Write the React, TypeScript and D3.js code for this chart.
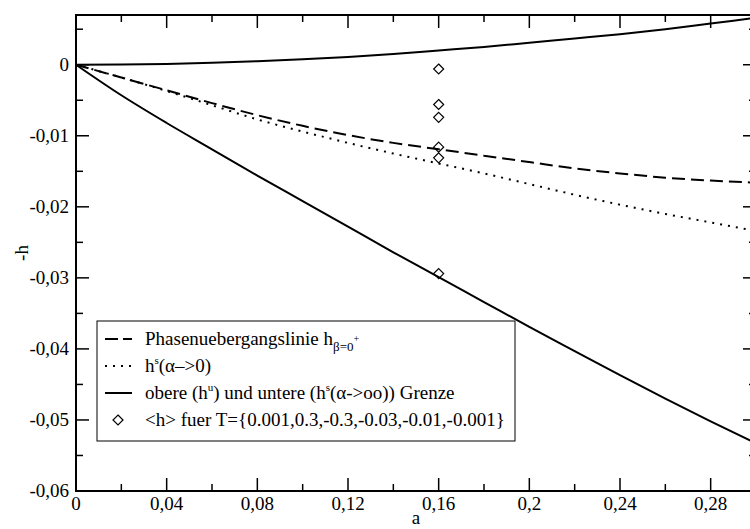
import React from "react";
import * as d3 from "d3";

const aGrid = [0, 0.02, 0.04, 0.06, 0.08, 0.1, 0.12, 0.14, 0.16, 0.18, 0.2, 0.22, 0.24, 0.26, 0.28, 0.3];
const upperBound = [0, 0.00003, 0.00012, 0.00028, 0.0005, 0.00077, 0.0011, 0.0015, 0.002, 0.0025, 0.0031, 0.0037, 0.0043, 0.005, 0.0058, 0.0066];
const lowerBound = [0, -0.0043, -0.0082, -0.0119, -0.0156, -0.0192, -0.0228, -0.0264, -0.0299, -0.0334, -0.0369, -0.0403, -0.0437, -0.047, -0.0502, -0.0533];
const phaseLine = [0, -0.0018, -0.0036, -0.0054, -0.0071, -0.0086, -0.0099, -0.011, -0.0119, -0.0128, -0.0137, -0.0146, -0.0153, -0.0159, -0.0163, -0.0166];
const hsAlpha0 = [0, -0.0018, -0.0037, -0.0057, -0.0077, -0.0094, -0.011, -0.0125, -0.0139, -0.0153, -0.0168, -0.0183, -0.0197, -0.021, -0.0222, -0.0234];
const diamondA = [0.16, 0.16, 0.16, 0.16, 0.16, 0.16];
const diamondH = [-0.0006, -0.0056, -0.0074, -0.0116, -0.0131, -0.0294];
const xMajor = [0, 0.04, 0.08, 0.12, 0.16, 0.2, 0.24, 0.28];
const xMinor = [0.02, 0.06, 0.1, 0.14, 0.18, 0.22, 0.26, 0.3];
const yMajor = [0, -0.01, -0.02, -0.03, -0.04, -0.05, -0.06];
const yMinor = [0.005, -0.005, -0.015, -0.025, -0.035, -0.045, -0.055];

const L = 76, R = 756, T = 15, B = 491;
const fmt = (v: number) => String(+v.toFixed(3)).replace(".", ",");
const FONT = "Liberation Serif";

export default function App() {
  const x = d3.scaleLinear().domain([0, 0.3]).range([L, R]);
  const y = d3.scaleLinear().domain([-0.06, 0.007]).range([B, T]);
  const line = (vals: number[]) =>
    d3.line<number>().x((_, i) => x(aGrid[i])).y((d) => y(d)).curve(d3.curveMonotoneX)(vals) || "";
  const major = 13, minor = 7;
  const diamond = (cx: number, cy: number, r = 5) =>
    `M${cx},${cy - r}L${cx + r},${cy}L${cx},${cy + r}L${cx - r},${cy}Z`;

  const lx = 97, ly = 321, lw = 418, lh = 120;
  const rowY = [339, 366, 393, 420];
  const fs = 19;

  return (
    <svg width={750} height={529} style={{ position: "absolute", left: 0, top: 0, background: "#fff" }}>
      <rect x={0} y={0} width={750} height={529} fill="#fff" />
      <g fill="none" stroke="#000">
        <path d={line(upperBound)} strokeWidth={2} />
        <path d={line(lowerBound)} strokeWidth={2} />
        <path d={line(phaseLine)} strokeWidth={2} strokeDasharray="13,6" />
        <path d={line(hsAlpha0)} strokeWidth={2} strokeDasharray="2,6" />
      </g>
      {diamondA.map((a, i) => (
        <path key={i} d={diamond(x(a), y(diamondH[i]))} fill="none" stroke="#000" strokeWidth={1.2} />
      ))}
      <rect x={L} y={T} width={R - L} height={B - T} fill="none" stroke="#000" strokeWidth={2} />
      <g stroke="#000" strokeWidth={1.5}>
        {xMajor.map((v) => (
          <g key={"xM" + v}>
            <line x1={x(v)} x2={x(v)} y1={B} y2={B - major} />
            <line x1={x(v)} x2={x(v)} y1={T} y2={T + major} />
          </g>
        ))}
        {xMinor.map((v) => (
          <g key={"xm" + v}>
            <line x1={x(v)} x2={x(v)} y1={B} y2={B - minor} />
            <line x1={x(v)} x2={x(v)} y1={T} y2={T + minor} />
          </g>
        ))}
        {yMajor.map((v) => (
          <g key={"yM" + v}>
            <line x1={L} x2={L + major} y1={y(v)} y2={y(v)} />
            <line x1={R} x2={R - major} y1={y(v)} y2={y(v)} />
          </g>
        ))}
        {yMinor.map((v) => (
          <g key={"ym" + v}>
            <line x1={L} x2={L + minor} y1={y(v)} y2={y(v)} />
            <line x1={R} x2={R - minor} y1={y(v)} y2={y(v)} />
          </g>
        ))}
      </g>
      <g fontSize={fs} fill="#000" fontFamily={FONT}>
        {xMajor.map((v) => (
          <text key={"xl" + v} x={x(v)} y={B + 19} textAnchor="middle">{fmt(v)}</text>
        ))}
        {yMajor.map((v) => (
          <text key={"yl" + v} x={L - 7} y={y(v) + 6} textAnchor="end">{fmt(v)}</text>
        ))}
        <text x={(L + R) / 2} y={524} textAnchor="middle">a</text>
        <text transform={`translate(28,${(T + B) / 2}) rotate(-90)`} textAnchor="middle">-h</text>
      </g>
      <rect x={lx} y={ly} width={lw} height={lh} fill="#fff" stroke="#000" strokeWidth={1} />
      <g fontSize={fs} fill="#000" fontFamily={FONT}>
        <line x1={105} x2={132} y1={rowY[0]} y2={rowY[0]} stroke="#000" strokeWidth={2} strokeDasharray="13,5" />
        <text x={145} y={rowY[0] + 6}>
          Phasenuebergangslinie h
          <tspan fontSize={13} dy={6}>β=0</tspan>
          <tspan fontSize={10} dy={-9}>+</tspan>
        </text>
        <line x1={105} x2={132} y1={rowY[1]} y2={rowY[1]} stroke="#000" strokeWidth={2} strokeDasharray="2,6" />
        <text x={145} y={rowY[1] + 6}>
          h<tspan fontSize={11} dy={-8}>s</tspan><tspan dy={8}>(α–&gt;0)</tspan>
        </text>
        <line x1={105} x2={132} y1={rowY[2]} y2={rowY[2]} stroke="#000" strokeWidth={2} />
        <text x={145} y={rowY[2] + 6}>
          obere (h<tspan fontSize={11} dy={-8}>u</tspan><tspan dy={8}>) und untere (h</tspan>
          <tspan fontSize={11} dy={-8}>s</tspan><tspan dy={8}>(α-&gt;oo)) Grenze</tspan>
        </text>
        <path d={diamond(118, rowY[3])} fill="none" stroke="#000" strokeWidth={1.2} />
        <text x={145} y={rowY[3] + 6}>&lt;h&gt; fuer T={"{"}0.001,0.3,-0.3,-0.03,-0.01,-0.001{"}"}</text>
      </g>
    </svg>
  );
}
